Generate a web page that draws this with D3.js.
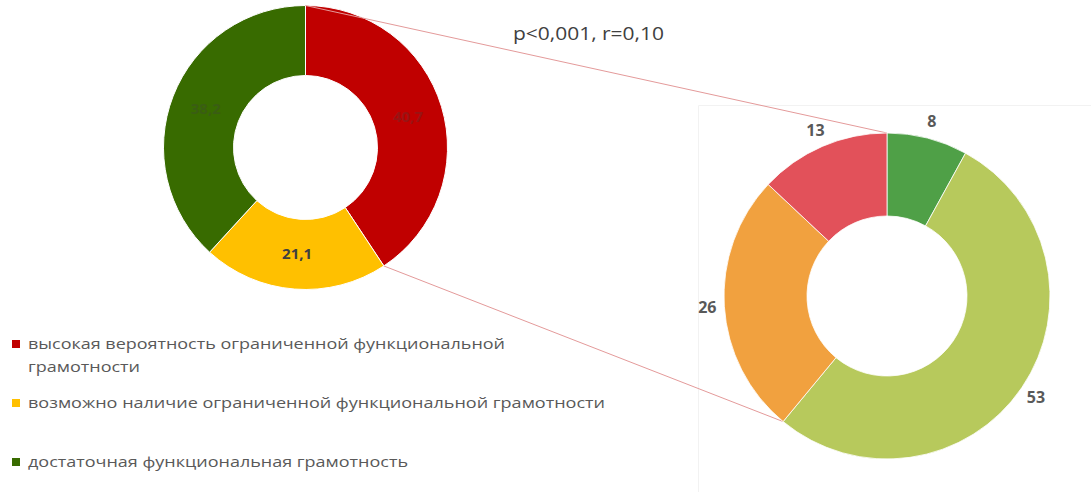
<!DOCTYPE html>
<html>
<head>
<meta charset="utf-8">
<script src="https://cdn.jsdelivr.net/npm/d3@7"></script>
<style>
  html, body { margin: 0; padding: 0; background: #fff; }
  svg { display: block; }
</style>
</head>
<body>
<svg id="chart" width="1091" height="492"></svg>
<script>
// Overall distribution of functional literacy levels (%)
const mainCategories = [
  "высокая вероятность ограниченной функциональной грамотности",
  "возможно наличие ограниченной функциональной грамотности",
  "достаточная функциональная грамотность"
];
const mainValues = [40.7, 21.1, 38.2];
const mainLabels = ["40,7", "21,1", "38,2"];
const mainColors = ["#c00000", "#ffc000", "#386b00"];

// Breakdown of the first group (%)
const subValues = [8, 53, 26, 13];
const subLabels = ["8", "53", "26", "13"];
const subColors = ["#4fa047", "#b7c95c", "#f1a13f", "#e2515a"];

const statText = "p<0,001, r=0,10";

// Legend lines (the first entry wraps onto two lines)
const legendLines = [
  ["высокая вероятность ограниченной функциональной", "грамотности"],
  ["возможно наличие ограниченной функциональной грамотности"],
  ["достаточная функциональная грамотность"]
];

const svg = d3.select("#chart");
const font = "'Open Sans', 'Noto Sans', sans-serif";

// Faint plot-area frame around the second ring
svg.append("path")
  .attr("d", "M698.5,492 V105.5 H1091")
  .attr("fill", "none")
  .attr("stroke", "#f2f2f2")
  .attr("stroke-width", 1);

const pie = d3.pie().sort(null).value(d => d);

// ---- main ring ----
const L = { cx: 305.5, cy: 147.5, r0: 72, r1: 142 };
const mainArcs = pie(mainValues);
const mainArc = d3.arc().innerRadius(L.r0).outerRadius(L.r1);
const gL = svg.append("g").attr("transform", `translate(${L.cx},${L.cy})`);
gL.selectAll("path").data(mainArcs).join("path")
  .attr("d", mainArc)
  .attr("fill", (d, i) => mainColors[i])
  .attr("stroke", "#fff")
  .attr("stroke-width", 1);
gL.selectAll("text").data(mainArcs).join("text")
  .attr("transform", d => `translate(${mainArc.centroid(d)})`)
  .attr("text-anchor", "middle")
  .attr("dy", "0.35em")
  .attr("font-family", font)
  .attr("font-size", 15)
  .attr("font-weight", "bold")
  .attr("fill", "#404040")
  .attr("opacity", (d, i) => i === 1 ? 1 : 0.3)
  .text((d, i) => mainLabels[i]);

// ---- breakdown ring ----
const R = { cx: 887, cy: 296, r0: 80, r1: 163 };
const subArcs = pie(subValues);
const subArc = d3.arc().innerRadius(R.r0).outerRadius(R.r1);
const labelArc = d3.arc().innerRadius(180).outerRadius(180);

// connector lines from the first group to the breakdown ring
const pointAt = (c, r, a) => [c.cx + r * Math.sin(a), c.cy - r * Math.cos(a)];
const connectors = [
  [pointAt(L, L.r1, mainArcs[0].startAngle), pointAt(R, R.r1, subArcs[0].startAngle)],
  [pointAt(L, L.r1, mainArcs[0].endAngle), pointAt(R, R.r1, subArcs[2].startAngle)]
];
svg.selectAll("line.conn").data(connectors).join("line")
  .attr("class", "conn")
  .attr("x1", d => d[0][0]).attr("y1", d => d[0][1])
  .attr("x2", d => d[1][0]).attr("y2", d => d[1][1])
  .attr("stroke", "#e49a9a")
  .attr("stroke-width", 1);

const gR = svg.append("g").attr("transform", `translate(${R.cx},${R.cy})`);
gR.selectAll("path").data(subArcs).join("path")
  .attr("d", subArc)
  .attr("fill", (d, i) => subColors[i])
  .attr("stroke", "#fff")
  .attr("stroke-width", 0.8);
gR.selectAll("text").data(subArcs).join("text")
  .attr("transform", d => `translate(${labelArc.centroid(d)})`)
  .attr("text-anchor", "middle")
  .attr("dy", "0.35em")
  .attr("font-family", font)
  .attr("font-size", 16)
  .attr("font-weight", "bold")
  .attr("fill", "#595959")
  .text((d, i) => subLabels[i]);

// ---- statistics caption ----
svg.append("text")
  .attr("x", 513).attr("y", 40)
  .attr("font-family", font)
  .attr("font-size", 18)
  .attr("fill", "#404040")
  .attr("textLength", 151)
  .attr("lengthAdjust", "spacingAndGlyphs")
  .text(statText);

// ---- legend ----
const legendRows = [
  { y: 344, lines: legendLines[0], widths: [477, 112] },
  { y: 403, lines: legendLines[1], widths: [577] },
  { y: 462, lines: legendLines[2], widths: [380] }
];
const gLeg = svg.append("g");
legendRows.forEach((row, i) => {
  gLeg.append("rect")
    .attr("x", 12).attr("y", row.y - 4)
    .attr("width", 8).attr("height", 8)
    .attr("fill", mainColors[i]);
  row.lines.forEach((ln, j) => {
    gLeg.append("text")
      .attr("x", 28).attr("y", row.y + j * 23)
      .attr("dy", "0.35em")
      .attr("font-family", font)
      .attr("font-size", 14.5)
      .attr("fill", "#595959")
      .attr("textLength", row.widths[j])
      .attr("lengthAdjust", "spacingAndGlyphs")
      .text(ln);
  });
});
</script>
</body>
</html>
